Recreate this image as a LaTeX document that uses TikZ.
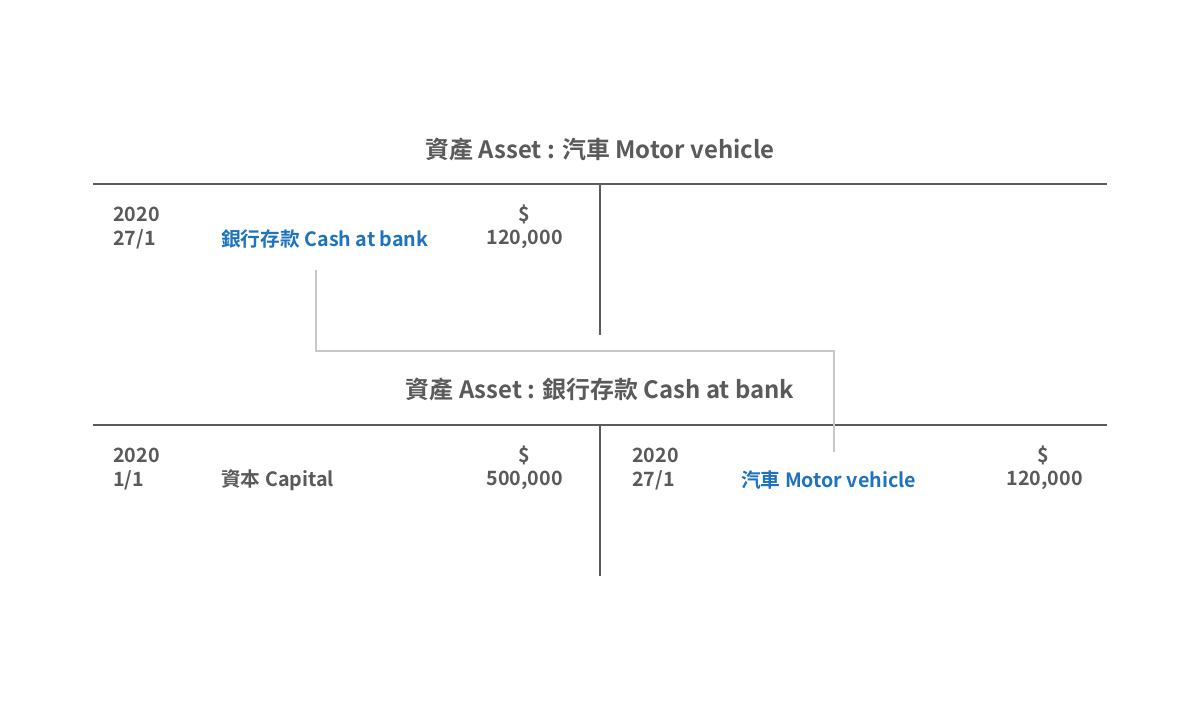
\documentclass[tikz,border=0pt]{standalone}
\usepackage{fontspec}
\setmainfont{Noto Sans CJK TC}[BoldFont={Noto Sans CJK TC Bold}]
\usepackage{tikz}
\definecolor{ink}{HTML}{5A5A5A}
\definecolor{link}{HTML}{1E73BE}
\definecolor{wire}{HTML}{C8C8C8}
\tikzset{
  txt/.style={inner sep=0pt, text=ink, font=\fontsize{14}{16}\selectfont\bfseries},
  lnk/.style={txt, text=link},
  title/.style={inner sep=0pt, text=ink, font=\fontsize{17}{20}\selectfont\bfseries},
  rule/.style={draw=ink, line width=2pt},
}
\begin{document}
\begin{tikzpicture}[x=0.025cm, y=-0.025cm]
        \useasboundingbox (0,0) rectangle (1200,704);                          %
        % motor vehicle account
        \node [title] (t1) at (600,149) {資產 Asset : 汽車 Motor vehicle};    %
        \draw [rule] (93,184) -- (1107,184);                                   %
        \draw [rule] (600,184) -- (600,335);                                   %
        \node [txt, anchor=west] (y1) at (113,214) {2020};                     %
        \node [txt, anchor=west] (d1) at (113,239) {27/1};                     %
        \node [lnk, anchor=west] (cb) at (221,239) {銀行存款 Cash at bank};    %
        \node [txt, anchor=east] (s1) at (530,214) {\$};                       %
        \node [txt, anchor=east] (a1) at (563,239) {120,000};                  %
        % cash at bank account
        \node [title] (t2) at (600,389) {資產 Asset : 銀行存款 Cash at bank}; %
        \draw [rule] (93,425) -- (1107,425);                                   %
        \draw [rule] (600,425) -- (600,576);                                   %
        \node [txt, anchor=west] (y2) at (113,455) {2020};                     %
        \node [txt, anchor=west] (d2) at (113,480) {1/1};                      %
        \node [txt, anchor=west] (cp) at (221,480) {資本 Capital};             %
        \node [txt, anchor=east] (s2) at (530,455) {\$};                       %
        \node [txt, anchor=east] (a2) at (563,480) {500,000};                  %
        \node [txt, anchor=west] (y3) at (632,455) {2020};                     %
        \node [txt, anchor=west] (d3) at (632,480) {27/1};                     %
        \node [lnk, anchor=west] (mv) at (741,480) {汽車 Motor vehicle};       %
        \node [txt, anchor=east] (s3) at (1049,455) {\$};                      %
        \node [txt, anchor=east] (a3) at (1083,480) {120,000};                 %
        % link between the two entries
        \coordinate (p) at (316,270);                                          %
        \coordinate (q) at (834,452);                                          %
        \draw [wire, line width=1.5pt] (p) -- (316,351) -| (q);               %
\end{tikzpicture}
\end{document}
